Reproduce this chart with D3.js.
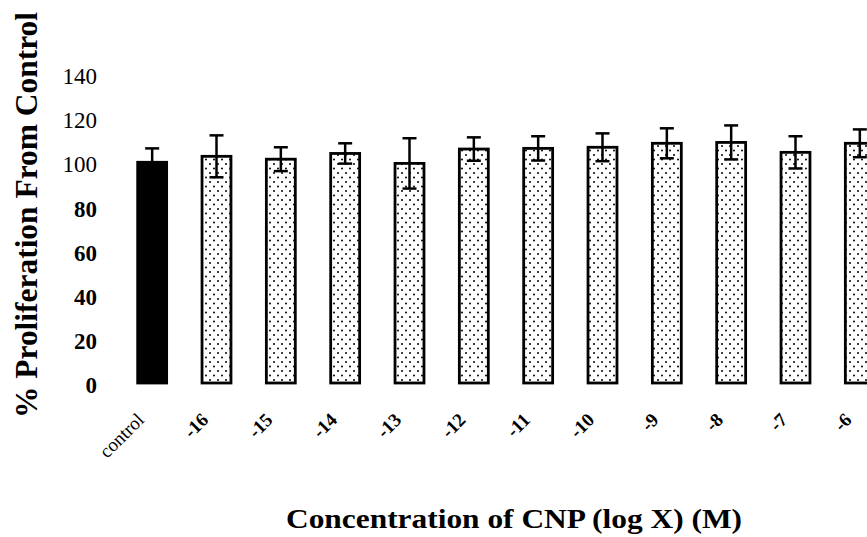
<!DOCTYPE html>
<html>
<head>
<meta charset="utf-8">
<script src="https://cdn.jsdelivr.net/npm/d3@7"></script>
<style>
  body { margin: 0; background: #fff; }
  svg { display: block; }
  text { font-family: "Liberation Serif", "Times New Roman", serif; fill: #000; }
</style>
</head>
<body>
<svg width="867" height="537"></svg>
<script>
const categories = ["control", "-16", "-15", "-14", "-13", "-12", "-11", "-10", "-9", "-8", "-7", "-6"];
const values = [100, 102.7, 101.4, 104, 99.5, 106, 106.3, 106.8, 108.6, 109, 104.5, 108.6];
const errors = [6.3, 9.5, 5.4, 4.6, 11.4, 5.3, 5.5, 6.3, 6.8, 7.7, 7.3, 6.3];
const yTicks = [0, 20, 40, 60, 80, 100, 120, 140];

var svg = d3.select("svg");

var x = d3.scaleBand()
    .domain(categories)
    .range([120, 892])
    .paddingInner(0.55)
    .paddingOuter(0.275);

var y = d3.scaleLinear()
    .domain([0, 140])
    .range([383, 74]);

// dotted fill
var defs = svg.append("defs");
var pat = defs.append("pattern")
    .attr("id", "dots")
    .attr("patternUnits", "userSpaceOnUse")
    .attr("width", 8)
    .attr("height", 9);
pat.append("rect").attr("width", 8).attr("height", 9).attr("fill", "#fff");
pat.append("circle").attr("cx", 2).attr("cy", 2).attr("r", 1).attr("fill", "#000");
pat.append("circle").attr("cx", 6).attr("cy", 6.5).attr("r", 1).attr("fill", "#000");

// y axis (labels only)
var yAxis = svg.append("g")
    .attr("transform", "translate(97,0)")
    .call(d3.axisLeft(y).tickValues(yTicks).tickSize(0).tickPadding(0));
yAxis.select(".domain").remove();
yAxis.selectAll("text")
    .attr("font-family", "Liberation Serif")
    .attr("font-size", 23)
    .attr("dy", "0.42em")
    .attr("font-weight", d => d >= 100 ? "normal" : "bold");

// bars
svg.append("g")
    .selectAll("rect")
    .data(categories)
    .enter().append("rect")
    .attr("x", d => x(d))
    .attr("y", (d, i) => y(values[i]))
    .attr("width", x.bandwidth())
    .attr("height", (d, i) => y(0) - y(values[i]))
    .attr("fill", (d, i) => i === 0 ? "#000" : "url(#dots)")
    .attr("stroke", "#000")
    .attr("stroke-width", 2.8);

// error bars
var err = svg.append("g")
    .attr("stroke", "#000")
    .attr("stroke-width", 2.5)
    .selectAll("g")
    .data(categories)
    .enter().append("g");

err.append("line")
    .attr("x1", d => x(d) + x.bandwidth() / 2)
    .attr("x2", d => x(d) + x.bandwidth() / 2)
    .attr("y1", (d, i) => y(values[i] + errors[i]))
    .attr("y2", (d, i) => i === 0 ? y(values[i]) : y(values[i] - errors[i]));

err.append("line")
    .attr("x1", d => x(d) + x.bandwidth() / 2 - 7)
    .attr("x2", d => x(d) + x.bandwidth() / 2 + 7)
    .attr("y1", (d, i) => y(values[i] + errors[i]))
    .attr("y2", (d, i) => y(values[i] + errors[i]));

err.filter((d, i) => i > 0).append("line")
    .attr("x1", d => x(d) + x.bandwidth() / 2 - 7)
    .attr("x2", d => x(d) + x.bandwidth() / 2 + 7)
    .attr("y1", d => { const i = categories.indexOf(d); return y(values[i] - errors[i]); })
    .attr("y2", d => { const i = categories.indexOf(d); return y(values[i] - errors[i]); });

// x tick labels, rotated
svg.append("g")
    .selectAll("text")
    .data(categories)
    .enter().append("text")
    .attr("transform", d => `translate(${x(d) + x.bandwidth() / 2 - 7},${421}) rotate(-45)`)
    .attr("text-anchor", "end")
    .attr("font-size", 19)
    .attr("font-weight", d => d === "control" ? "normal" : "bold")
    .text(d => d);

// axis titles
svg.append("text")
    .attr("transform", "translate(37,215) rotate(-90)")
    .attr("text-anchor", "middle")
    .attr("font-size", 32)
    .attr("font-weight", "bold")
    .attr("textLength", 406)
    .attr("lengthAdjust", "spacingAndGlyphs")
    .text("% Proliferation From Control");

svg.append("text")
    .attr("x", 514)
    .attr("y", 528)
    .attr("text-anchor", "middle")
    .attr("font-size", 27)
    .attr("font-weight", "bold")
    .attr("textLength", 456)
    .attr("lengthAdjust", "spacingAndGlyphs")
    .text("Concentration of CNP (log X) (M)");
</script>
</body>
</html>
